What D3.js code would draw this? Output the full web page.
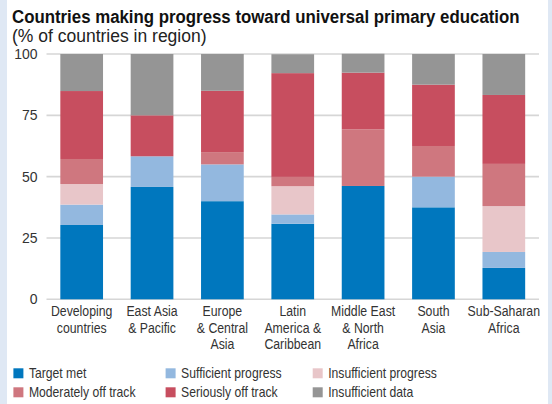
<!DOCTYPE html>
<html>
<head>
<meta charset="utf-8">
<script src="https://cdn.jsdelivr.net/npm/d3@7"></script>
<style>
  html, body { margin: 0; padding: 0; background: #ffffff; }
  svg { display: block; }
  text { font-family: "Liberation Sans", Arial, sans-serif; fill: #222; }
</style>
</head>
<body>
<svg id="chart" width="552" height="404"></svg>
<script>
const categories = [
  ["Developing", "countries"],
  ["East Asia", "& Pacific"],
  ["Europe", "& Central", "Asia"],
  ["Latin", "America &", "Caribbean"],
  ["Middle East", "& North", "Africa"],
  ["South", "Asia"],
  ["Sub-Saharan", "Africa"]
];
const seriesNames = ["Target met", "Sufficient progress", "Insufficient progress",
                     "Moderately off track", "Seriously off track", "Insufficient data"];
const targetMet            = [30.3, 45.8, 40.0, 30.8, 46.2, 37.5, 12.8];
const sufficientProgress   = [8.3, 12.5, 15.0, 3.8, 0, 12.5, 6.5];
const insufficientProgress = [8.4, 0, 0, 11.5, 0, 0, 18.7];
const moderatelyOffTrack   = [10.2, 0, 5.0, 3.8, 23.1, 12.5, 17.2];
const seriouslyOffTrack    = [27.7, 16.7, 25.0, 42.3, 23.1, 25.0, 28.1];
const insufficientData     = [15.1, 25.0, 15.0, 7.7, 7.7, 12.5, 16.7];
const yTicks = [0, 25, 50, 75, 100];
const colors = ["#0077be", "#93b8df", "#e8c6c9", "#cf777f", "#c74e5f", "#959595"];

const seriesValues = [targetMet, sufficientProgress, insufficientProgress,
                      moderatelyOffTrack, seriouslyOffTrack, insufficientData];
const keys = categories.map(c => c.join(" "));
const table = keys.map((k, i) => {
  const row = { cat: k };
  seriesNames.forEach((s, j) => row[s] = seriesValues[j][i]);
  return row;
});

const NARROW = 0.82;
const svg = d3.select("#chart");
// background side stripes
svg.append("rect").attr("x", 0).attr("y", 0).attr("width", 7).attr("height", 404).attr("fill", "#dfe8f4");
svg.append("rect").attr("x", 548).attr("y", 0).attr("width", 4).attr("height", 404).attr("fill", "#dfe8f4");

// title and subtitle, horizontally fitted to the reference widths
function fittedText(str, px, baseline, size, weight, width, fill) {
  const t = svg.append("text")
    .style("font-weight", weight).style("font-size", size + "px").style("fill", fill)
    .text(str);
  const w = t.node().getComputedTextLength();
  const s = Math.min(1, width / w);
  t.attr("transform", `translate(${px},${baseline}) scale(${s},1)`);
  return t;
}
fittedText("Countries making progress toward universal primary education", 12, 22.5, 17.5, "bold", 508, "#111");
fittedText("(% of countries in region)", 12, 41.5, 17.5, "normal", 203, "#222");

const x = d3.scaleBand().domain(keys).range([46.5, 539]).paddingInner(0.393).paddingOuter(0.1965);
const y = d3.scaleLinear().domain([0, 100]).range([299.3, 54]);

// grid
svg.append("g").selectAll("line").data(yTicks).join("line")
  .attr("x1", 46.5).attr("x2", 539)
  .attr("y1", d => y(d)).attr("y2", d => y(d))
  .attr("stroke", "#d6d6d6").attr("stroke-width", 1.6);

// y axis labels
const yAxis = d3.axisLeft(y).tickValues(yTicks).tickSize(0).tickPadding(9);
const yg = svg.append("g").attr("transform", "translate(46.5,0)").call(yAxis);
yg.select(".domain").remove();
yg.selectAll("text").style("font-family", "'Liberation Sans', Arial, sans-serif")
  .style("font-size", "14px").style("fill", "#333");

// bars
const stack = d3.stack().keys(seriesNames);
const stacked = stack(table);
svg.append("g").selectAll("g").data(stacked).join("g")
  .attr("fill", (d, i) => colors[i])
  .selectAll("rect").data(d => d).join("rect")
  .attr("x", d => x(d.data.cat))
  .attr("width", x.bandwidth())
  .attr("y", d => y(d[1]))
  .attr("height", d => Math.max(0, y(d[0]) - y(d[1])));

// x labels (condensed by horizontal scaling)
const xl = svg.append("g");
categories.forEach((lines, i) => {
  const cx = x(keys[i]) + x.bandwidth() / 2;
  lines.forEach((ln, j) => {
    xl.append("text")
      .attr("transform", `translate(${cx},${316 + j * 16.5}) scale(${NARROW},1)`)
      .attr("text-anchor", "middle")
      .style("font-size", "15px").style("fill", "#333")
      .text(ln);
  });
});

// legend
const legX = [13.4, 165.6, 312.7];
const legY = [368.3, 387.3];
const lg = svg.append("g");
seriesNames.forEach((s, i) => {
  const col = i % 3, row = Math.floor(i / 3);
  const g = lg.append("g").attr("transform", `translate(${legX[col]},${legY[row]})`);
  g.append("rect").attr("width", 10).attr("height", 10).attr("fill", colors[i]);
  g.append("text").attr("transform", `translate(15.5,10) scale(0.84,1)`)
    .style("font-size", "14.5px").style("fill", "#333").text(s);
});
</script>
</body>
</html>
